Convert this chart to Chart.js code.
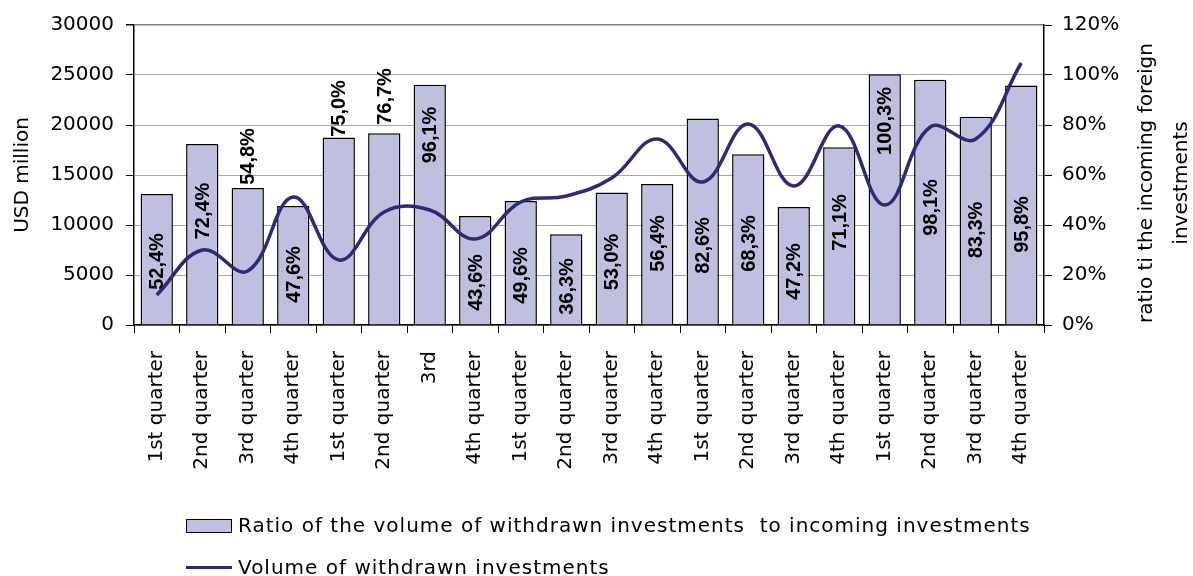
<!DOCTYPE html>
<html>
<head>
<meta charset="utf-8">
<script src="https://cdn.jsdelivr.net/npm/chart.js@4"></script>
<style>
  html, body { margin: 0; padding: 0; background: #fff; }
  #wrap { position: relative; width: 1193px; height: 576px; }
  #c { position: absolute; left: 0; top: 0; }
  .leg { position: absolute; left: 186px; font-family: "DejaVu Sans", sans-serif; font-size: 20px; color: #000; white-space: pre; line-height: 22px; letter-spacing: 1px; }
  .leg .sw { display: inline-block; vertical-align: middle; }
</style>
</head>
<body>
<div id="wrap">
  <canvas id="c" width="1193" height="576"></canvas>
  <div class="leg" id="leg1" style="top:514px;"><span class="sw" style="width:44px;height:12px;background:#BFBFDF;border:1.5px solid #000;margin-right:6px;position:relative;top:-1px;"></span>Ratio of the volume of withdrawn investments  to incoming investments</div>
  <div class="leg" id="leg2" style="top:556px;"><span class="sw" style="width:46px;height:3px;background:#2E2A78;margin-right:6px;position:relative;top:-1px;"></span>Volume of withdrawn investments</div>
</div>
<script>
const categories = [
  "1st quarter", "2nd quarter", "3rd quarter", "4th quarter",
  "1st quarter", "2nd quarter", "3rd", "4th quarter",
  "1st quarter", "2nd quarter", "3rd quarter", "4th quarter",
  "1st quarter", "2nd quarter", "3rd quarter", "4th quarter",
  "1st quarter", "2nd quarter", "3rd quarter", "4th quarter"
];
// Ratio of withdrawn to incoming investments, %
const ratioPercent = [52.4, 72.4, 54.8, 47.6, 75.0, 76.7, 96.1, 43.6, 49.6, 36.3,
                      53.0, 56.4, 82.6, 68.3, 47.2, 71.1, 100.3, 98.1, 83.3, 95.8];
// Volume of withdrawn investments, USD million
const withdrawnVolume = [3000, 7500, 5400, 12800, 6500, 11300, 11500, 8600, 12300, 12900,
                         14700, 18600, 14300, 20100, 13900, 19900, 12000, 19800, 18600, 26200];
const leftTicks = [0, 5000, 10000, 15000, 20000, 25000, 30000];
const rightTicks = [0, 20, 40, 60, 80, 100, 120];

// style: vertical centre of each bar label, in % axis units
const labelCentre = [25.4, 45.6, 67.4, 20.2, 86.6, 91.4, 76, 17, 19.8, 15.4,
                     25.2, 32.6, 31.8, 32.6, 21.4, 41, 81.6, 47, 38, 40.2];

const FONT = "DejaVu Sans";

const barLabels = {
  id: 'barLabels',
  afterDatasetsDraw(chart) {
    const meta = chart.getDatasetMeta(1);
    const y2 = chart.scales.y2;
    const ctx = chart.ctx;
    ctx.save();
    ctx.font = 'bold 20px "Liberation Sans"';
    ctx.fillStyle = '#000';
    ctx.textAlign = 'center';
    ctx.textBaseline = 'middle';
    meta.data.forEach((bar, i) => {
      const txt = ratioPercent[i].toFixed(1).replace('.', ',') + '%';
      ctx.save();
      ctx.translate(bar.x + 1, y2.getPixelForValue(labelCentre[i]));
      ctx.rotate(-Math.PI / 2);
      ctx.fillText(txt, 0, 0);
      ctx.restore();
    });
    ctx.restore();
  }
};

const rightTitle = {
  id: 'rightTitle',
  afterDraw(chart) {
    const ca = chart.chartArea;
    const ctx = chart.ctx;
    const cy = (ca.top + ca.bottom) / 2 + 8;
    ctx.save();
    ctx.font = '20px "' + FONT + '"';
    ctx.fillStyle = '#000';
    ctx.textAlign = 'center';
    ctx.textBaseline = 'middle';
    [["ratio ti the incoming foreign", 103], ["investments", 138]].forEach(([t, dx]) => {
      ctx.save();
      ctx.translate(ca.right + dx, cy);
      ctx.rotate(-Math.PI / 2);
      ctx.fillText(t, 0, 0);
      ctx.restore();
    });
    ctx.restore();
  }
};

new Chart(document.getElementById('c'), {
  data: {
    labels: categories,
    datasets: [
      {
        type: 'line',
        label: 'Volume of withdrawn investments',
        data: withdrawnVolume,
        yAxisID: 'y',
        borderColor: '#2E2A78',
        borderWidth: 3.5,
        pointRadius: 0,
        tension: 0.4,
        fill: false,
        order: 0
      },
      {
        type: 'bar',
        label: 'Ratio of the volume of withdrawn investments  to incoming investments',
        data: ratioPercent,
        yAxisID: 'y2',
        backgroundColor: '#BFBFDF',
        borderColor: '#000',
        borderWidth: 1.5,
        categoryPercentage: 1.0,
        barPercentage: 0.71,
        order: 1
      }
    ]
  },
  options: {
    responsive: false,
    animation: false,
    layout: { padding: { top: 25, left: 0, right: 0, bottom: 0 } },
    plugins: { legend: { display: false }, tooltip: { enabled: false } },
    scales: {
      x: {
        type: 'category',
        offset: true,
        grid: { drawOnChartArea: false, drawTicks: true, tickLength: 8, color: '#000', offset: true },
        border: { color: '#000', width: 1.5 },
        ticks: { color: '#000', font: { family: FONT, size: 20 }, maxRotation: 90, minRotation: 90, padding: 18, autoSkip: false },
        afterFit(s) { s.height = 251; }
      },
      y: {
        position: 'left',
        min: 0, max: 30000,
        afterBuildTicks(s) { s.ticks = leftTicks.map(v => ({ value: v })); },
        grid: {
          color: (c) => c.tick && c.tick.value === 30000 ? '#808080' : '#A6A6A6',
          lineWidth: (c) => c.tick && c.tick.value === 30000 ? 1.5 : 1,
          tickColor: '#000', tickLength: 8, drawTicks: true
        },
        border: { color: '#000', width: 1.5 },
        ticks: { color: '#000', font: { family: FONT, size: 20 }, padding: 12, callback: (v) => String(v) },
        title: { display: true, text: 'USD million', color: '#000', font: { family: FONT, size: 20 }, padding: { top: 11, bottom: 0 } },
        afterFit(s) { s.width = 134; }
      },
      y2: {
        position: 'right',
        min: 0, max: 120,
        afterBuildTicks(s) { s.ticks = rightTicks.map(v => ({ value: v })); },
        grid: { drawOnChartArea: false, tickColor: '#000', tickLength: 8 },
        border: { color: '#000', width: 1.5 },
        ticks: { color: '#000', font: { family: FONT, size: 20 }, padding: 10, callback: (v) => v + '%' },
        afterFit(s) { s.width = 149; }
      }
    }
  },
  plugins: [barLabels, rightTitle]
});
</script>
</body>
</html>
